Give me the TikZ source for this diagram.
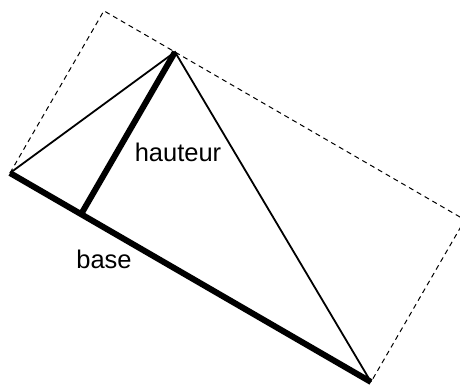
\documentclass[tikz,border=0pt]{standalone}
\usepackage{fontspec}
\newfontfamily\labelfont{Liberation Sans}
\usetikzlibrary{calc}
\begin{document}
\begin{tikzpicture}[x=1pt,y=-1pt,
    cote/.style={line width=1.8pt},
    gras/.style={line width=6pt},
    cadre/.style={line width=1pt,dash pattern=on 5pt off 4pt},
    etiquette/.style={font=\labelfont\fontsize{25.5}{30}\selectfont,anchor=base,inner sep=0pt}]
    \useasboundingbox (0,0) rectangle (460,386);
    \coordinate (A) at (10,173);
    \coordinate (B) at (175,52);
    \coordinate (C) at (371,382);
    \coordinate (H) at ($(A)!(B)!(C)$);
    \coordinate (P) at ($(A)+(B)-(H)$);
    \coordinate (Q) at ($(C)+(B)-(H)$);
    \draw[cadre] (A) -- (P) -- (Q) -- (C);
    \draw[cote] (A) -- (B) -- (C);
    \draw[gras] (A) -- (C);
    \draw[gras] (B) -- (H);
    \node[etiquette] (hauteur) at (178,161) {hauteur};
    \node[etiquette] (base) at (104,268) {base};
\end{tikzpicture}
\end{document}
